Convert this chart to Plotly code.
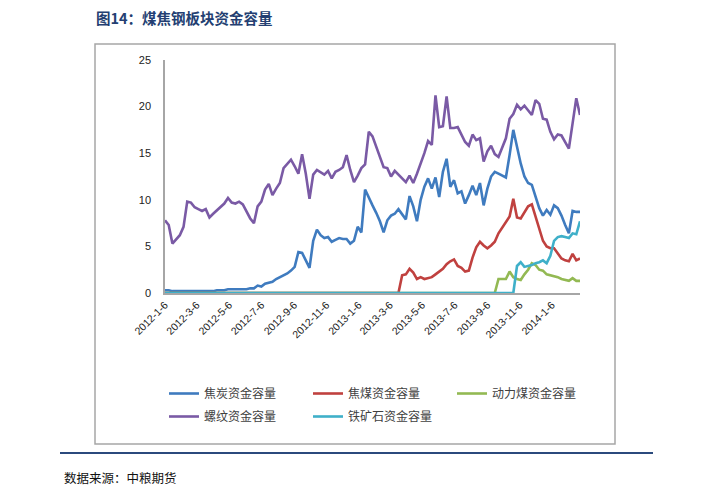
import pandas as pd
import plotly.graph_objects as go

# ---------------- data ----------------
dates = pd.date_range("2012-01-06", periods=113, freq="7D")

tick_vals = ["2012-01-06", "2012-03-06", "2012-05-06", "2012-07-06", "2012-09-06",
             "2012-11-06", "2013-01-06", "2013-03-06", "2013-05-06", "2013-07-06",
             "2013-09-06", "2013-11-06", "2014-01-06"]
tick_text = ["2012-1-6", "2012-3-6", "2012-5-6", "2012-7-6", "2012-9-6",
             "2012-11-6", "2013-1-6", "2013-3-6", "2013-5-6", "2013-7-6",
             "2013-9-6", "2013-11-6", "2014-1-6"]

coke = [0.3, 0.3, 0.2, 0.2, 0.2, 0.2, 0.2, 0.2, 0.2, 0.2,
        0.2, 0.2, 0.2, 0.2, 0.3, 0.3, 0.3, 0.4, 0.4, 0.4,
        0.4, 0.4, 0.4, 0.5, 0.5, 0.8, 0.7, 1.0, 1.1, 1.2,
        1.5, 1.7, 1.9, 2.1, 2.4, 2.8, 4.4, 4.3, 3.5, 2.7,
        5.6, 6.8, 6.2, 5.9, 6.0, 5.5, 5.7, 5.9, 5.8, 5.8,
        5.3, 5.6, 7.1, 6.5, 11.1, 10.2, 9.4, 8.6, 7.7, 6.5,
        7.8, 8.3, 8.5, 9.0, 8.4, 7.9, 10.4, 9.3, 7.7, 10.0,
        11.4, 12.3, 11.2, 12.4, 10.3, 13.0, 14.4, 11.4, 12.1, 10.7,
        10.9, 9.6, 10.5, 11.5, 10.5, 11.8, 9.4, 11.2, 12.5, 13.0,
        12.8, 12.6, 12.4, 14.8, 17.5, 15.7, 13.9, 12.5, 11.8, 11.6,
        10.3, 9.1, 8.3, 8.9, 8.4, 9.4, 9.1, 8.3, 7.3, 6.4,
        8.8, 8.7, 8.7]

coking_coal = [0, 0, 0, 0, 0, 0, 0, 0, 0, 0,
               0, 0, 0, 0, 0, 0, 0, 0, 0, 0,
               0, 0, 0, 0, 0, 0, 0, 0, 0, 0,
               0, 0, 0, 0, 0, 0, 0, 0, 0, 0,
               0, 0, 0, 0, 0, 0, 0, 0, 0, 0,
               0, 0, 0, 0, 0, 0, 0, 0, 0, 0,
               0, 0, 0, 0, 1.9, 2.0, 2.6, 2.2, 1.5, 1.7,
               1.5, 1.6, 1.7, 2.0, 2.3, 2.6, 3.1, 3.4, 3.6, 2.9,
               2.7, 2.3, 2.4, 3.8, 4.9, 5.5, 5.1, 4.8, 5.1, 5.5,
               6.4, 7.0, 7.7, 8.2, 10.1, 8.1, 8.0, 8.7, 9.3, 9.5,
               8.2, 6.7, 5.6, 5.0, 4.8, 4.8, 4.3, 3.7, 3.5, 3.4,
               4.2, 3.5, 3.7]

thermal_coal = [0, 0, 0, 0, 0, 0, 0, 0, 0, 0,
                0, 0, 0, 0, 0, 0, 0, 0, 0, 0,
                0, 0, 0, 0, 0, 0, 0, 0, 0, 0,
                0, 0, 0, 0, 0, 0, 0, 0, 0, 0,
                0, 0, 0, 0, 0, 0, 0, 0, 0, 0,
                0, 0, 0, 0, 0, 0, 0, 0, 0, 0,
                0, 0, 0, 0, 0, 0, 0, 0, 0, 0,
                0, 0, 0, 0, 0, 0, 0, 0, 0, 0,
                0, 0, 0, 0, 0, 0, 0, 0, 0, 0,
                1.5, 1.5, 1.5, 2.3, 1.7, 1.5, 1.4, 2.0, 2.5, 3.2,
                3.0, 2.5, 2.4, 2.0, 1.9, 1.8, 1.7, 1.5, 1.4, 1.3,
                1.6, 1.3, 1.3]

rebar = [7.8, 7.3, 5.3, 5.8, 6.2, 7.1, 9.8, 9.7, 9.2, 9.0,
         8.8, 9.0, 8.1, 8.5, 8.9, 9.3, 9.6, 10.2, 9.7, 9.6,
         9.8, 9.5, 8.7, 8.0, 7.5, 9.3, 9.8, 11.1, 11.7, 10.5,
         11.2, 11.8, 13.4, 13.8, 14.3, 13.6, 12.8, 14.9, 12.8, 10.1,
         12.7, 13.2, 12.9, 12.7, 13.1, 12.3, 13.0, 13.2, 13.5, 14.8,
         13.2, 11.9, 12.6, 13.4, 13.8, 17.3, 16.8, 15.7, 14.5, 13.5,
         13.4, 12.5, 13.1, 12.7, 12.3, 11.9, 12.6, 11.8, 12.8, 13.8,
         15.0, 16.3, 15.9, 21.2, 17.8, 17.9, 21.1, 17.7, 17.7, 17.8,
         16.9, 16.2, 15.8, 17.0, 16.4, 16.6, 14.1, 15.2, 15.8, 14.9,
         14.6, 15.7, 16.6, 18.7, 19.2, 20.2, 19.7, 20.1, 19.6, 19.1,
         20.7, 20.3, 18.7, 18.6, 17.3, 16.5, 17.0, 16.9, 16.2, 15.5,
         18.2, 20.9, 19.1]

iron_ore = [0, 0, 0, 0, 0, 0, 0, 0, 0, 0,
            0, 0, 0, 0, 0, 0, 0, 0, 0, 0,
            0, 0, 0, 0, 0, 0, 0, 0, 0, 0,
            0, 0, 0, 0, 0, 0, 0, 0, 0, 0,
            0, 0, 0, 0, 0, 0, 0, 0, 0, 0,
            0, 0, 0, 0, 0, 0, 0, 0, 0, 0,
            0, 0, 0, 0, 0, 0, 0, 0, 0, 0,
            0, 0, 0, 0, 0, 0, 0, 0, 0, 0,
            0, 0, 0, 0, 0, 0, 0, 0, 0, 0,
            0, 0, 0, 0, 0, 2.9, 3.3, 2.8, 2.9, 3.0,
            3.2, 3.3, 3.5, 3.2, 4.0, 5.6, 6.0, 6.1, 6.0, 5.9,
            6.4, 6.3, 7.7]

series = [
    ("焦炭资金容量", coke, "#3f7bbf", "legend"),
    ("焦煤资金容量", coking_coal, "#c0413f", "legend"),
    ("动力煤资金容量", thermal_coal, "#93b953", "legend"),
    ("螺纹资金容量", rebar, "#7a5aa5", "legend2"),
    ("铁矿石资金容量", iron_ore, "#3fb0c9", "legend2"),
]

# ---------------- layout helpers ----------------
W, H = 717, 500
L, R, T, B = 165, 580, 60, 293   # plot area in pixels


def px(x):
    return (x - L) / (R - L)


def py(y):
    return (B - y) / (B - T)


fig = go.Figure()
for name, vals, color, lg in series:
    fig.add_trace(go.Scatter(
        x=dates, y=vals, name=name, mode="lines", legend=lg,
        line=dict(color=color, width=2.6),
    ))

legend_common = dict(
    orientation="h", xanchor="left", yanchor="top",
    xref="paper", yref="paper",
    entrywidth=99, entrywidthmode="pixels",
    font=dict(family="Noto Sans CJK SC", size=12, color="#404040"),
    bgcolor="rgba(0,0,0,0)", itemwidth=30,
)

fig.update_layout(
    width=W, height=H,
    margin=dict(l=L, r=W - R, t=T, b=H - B, pad=0),
    paper_bgcolor="white", plot_bgcolor="white",
    showlegend=True,
    legend=dict(legend_common, x=px(164), y=py(379)),
    legend2=dict(legend_common, x=px(164), y=py(402)),
    xaxis=dict(
        range=[dates[0], dates[-1]],
        tickmode="array", tickvals=tick_vals, ticktext=tick_text,
        tickangle=-45, showgrid=False, zeroline=False,
        showline=True, linecolor="#a6a6a6", linewidth=1.5,
        ticks="", tickfont=dict(family="Liberation Sans", size=10.5, color="#222222"),
    ),
    yaxis=dict(
        range=[0, 25], tickmode="array", tickvals=[0, 5, 10, 15, 20, 25],
        showgrid=False, zeroline=False,
        showline=True, linecolor="#a6a6a6", linewidth=1.5,
        ticks="", ticklen=0, ticklabelstandoff=10,
        tickfont=dict(family="Liberation Sans", size=11, color="#222222"),
    ),
    shapes=[
        dict(type="rect", xref="paper", yref="paper",
             x0=px(95), x1=px(615), y0=py(444), y1=py(44),
             line=dict(color="#a6a6a6", width=1.5), layer="below"),
        dict(type="line", xref="paper", yref="paper",
             x0=px(60), x1=px(653), y0=py(453), y1=py(453),
             line=dict(color="#2b4a7d", width=2)),
    ],
    annotations=[
        dict(text="<b>图14：煤焦钢板块资金容量</b>", xref="paper", yref="paper",
             x=px(94), y=py(18), xanchor="left", yanchor="middle", showarrow=False,
             font=dict(family="Noto Sans CJK SC", size=14.5, color="#243f72")),
        dict(text="数据来源：中粮期货", xref="paper", yref="paper",
             x=px(62), y=py(478), xanchor="left", yanchor="middle", showarrow=False,
             font=dict(family="Noto Sans CJK SC", size=12.5, color="#111111")),
    ],
)

fig.write_html("out.html")
